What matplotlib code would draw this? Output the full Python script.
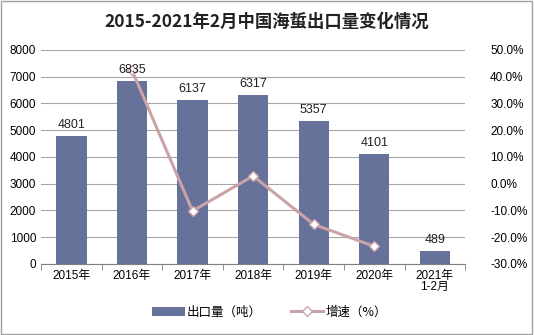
import matplotlib.pyplot as plt
import numpy as np
from matplotlib.patches import Rectangle

plt.rcParams['font.family'] = ['Liberation Sans', 'Noto Sans CJK SC', 'DejaVu Sans']

years = ['2015年', '2016年', '2017年', '2018年', '2019年', '2020年', '2021年\n1-2月']
export_t = [4801, 6835, 6137, 6317, 5357, 4101, 489]
growth_pct = [None, 42.4, -10.2, 2.9, -15.2, -23.4, None]

bar_color = '#67729a'
line_color = '#c9a3a8'

fig = plt.figure(figsize=(5.34, 3.35), dpi=100)
ax = fig.add_axes([0.077, 0.212, 0.794, 0.639])
x = np.arange(len(years))

ax.set_axisbelow(True)
ax.yaxis.grid(True, color='#a6a6a6', linewidth=0.8)
ax.bar(x, export_t, width=0.5, color=bar_color, label='出口量（吨）', zorder=2)

ax.set_ylim(0, 8000)
ax.set_yticks(range(0, 8001, 1000))
ax.set_xlim(-0.5, len(years) - 0.5)
ax.set_xticks(x)
ax.set_xticklabels(years, fontsize=8.5, linespacing=0.95)
ax.set_xticks(np.arange(-0.5, len(years), 1), minor=True)
ax.tick_params(axis='x', which='major', length=0, pad=4)
ax.tick_params(axis='x', which='minor', length=4, color='#808080')
ax.tick_params(axis='y', length=0, labelsize=8.5)
for s in ['top', 'right', 'left']:
    ax.spines[s].set_visible(False)
ax.spines['bottom'].set_color('#808080')

ax2 = ax.twinx()
gx = [xi for xi, g in zip(x, growth_pct) if g is not None]
gy = [g for g in growth_pct if g is not None]
ax2.plot(gx, gy, color=line_color, linewidth=2.2, marker='D', markersize=5,
         markerfacecolor='white', markeredgecolor=line_color, markeredgewidth=1,
         label='增速（%）', zorder=3)
ax2.set_ylim(-30, 50)
ax2.set_yticks(range(-30, 51, 10))
ax2.set_yticklabels([f'{v:.1f}%' for v in range(-30, 51, 10)])
ax2.tick_params(axis='y', length=0, labelsize=8.5, pad=18)
for s in ['top', 'right', 'left', 'bottom']:
    ax2.spines[s].set_visible(False)

# value labels drawn above the line
for xi, v in zip(x, export_t):
    ax2.text(xi, v + 180, str(v), ha='center', va='bottom', fontsize=9,
             color='#222222', transform=ax.transData, zorder=5)

fig.text(0.5, 0.935, '2015-2021年2月中国海蜇出口量变化情况', ha='center', va='center',
         fontsize=12.5, fontweight='bold', family=['Noto Sans CJK SC'], color='#222222')

h1, l1 = ax.get_legend_handles_labels()
h2, l2 = ax2.get_legend_handles_labels()
fig.legend(h1 + h2, l1 + l2, loc='center', bbox_to_anchor=(0.505, 0.068), ncol=2,
           frameon=False, handlelength=2.6, columnspacing=2.3,
           handletextpad=0.2, prop={'family': ['Noto Sans CJK SC'], 'size': 9})

fig.patches.append(Rectangle((0.002, 0.003), 0.995, 0.994, transform=fig.transFigure,
                             fill=False, edgecolor='#a0a0a0', linewidth=1))

fig.savefig('out.png', dpi=100)
